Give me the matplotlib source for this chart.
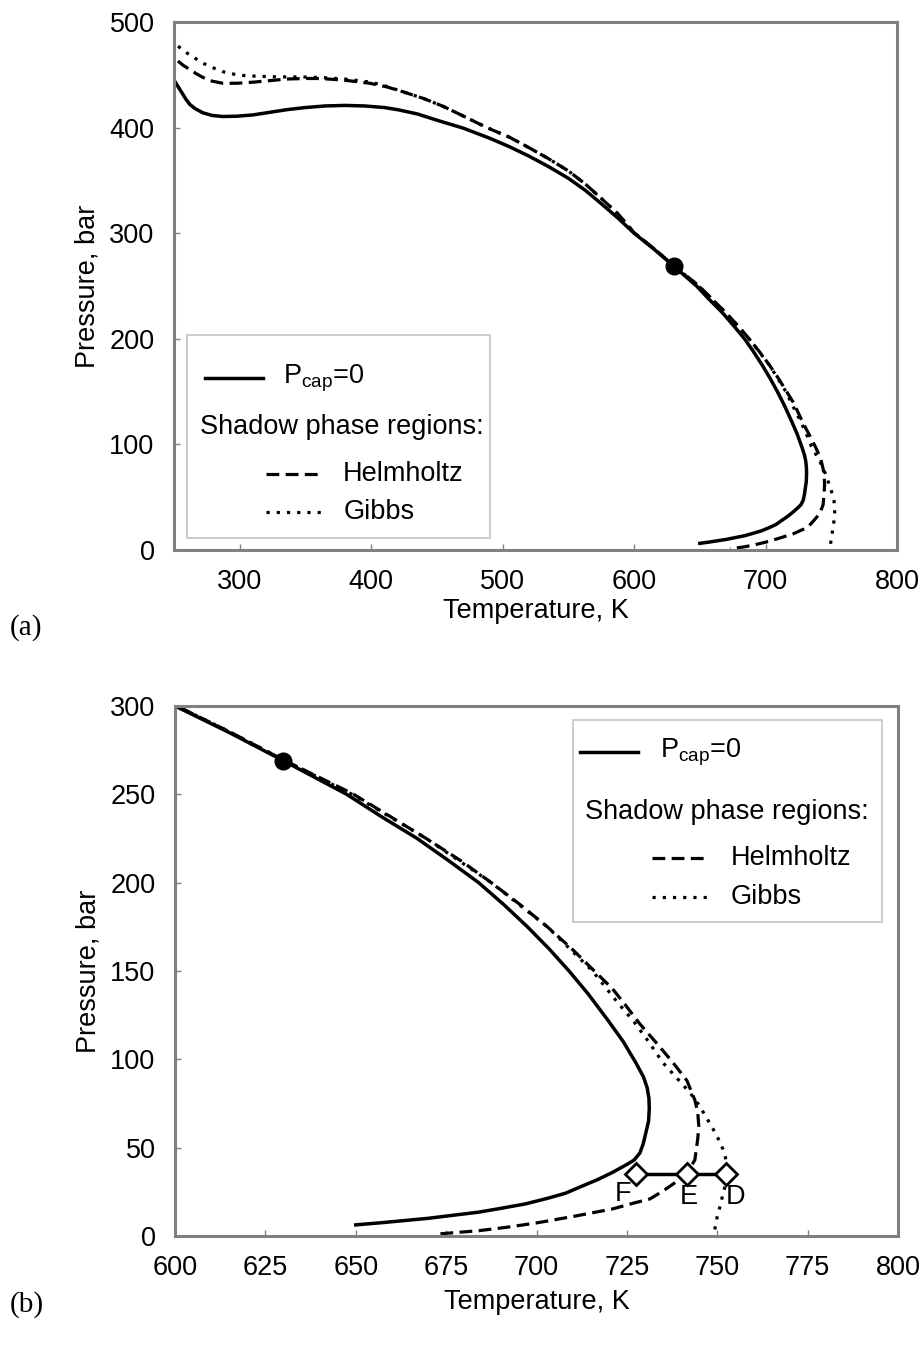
import matplotlib.pyplot as plt
from matplotlib.patches import Rectangle

plt.rcParams['font.family'] = 'Liberation Sans'
plt.rcParams['mathtext.fontset'] = 'custom'
plt.rcParams['mathtext.rm'] = 'Liberation Sans'

# P_cap = 0 curve (temperature K, pressure bar)
SOLID_T = [250, 253, 256, 259, 262, 266, 272, 279, 287, 298, 310, 323, 336, 350, 365,
           380, 395, 410, 420, 435, 450, 470, 490, 505, 520, 535, 550, 563, 575, 588,
           600, 615, 630, 647.5, 657, 667, 676, 684, 691, 697.5, 703.5, 709, 714.3, 719.8,
           724, 727.5, 729.6, 730.6, 731.1, 731.2, 731, 730.2, 729.5, 728.6, 727, 725,
           721.2, 717, 712, 708, 703, 697, 690, 684, 670, 657, 650]
SOLID_P = [445, 439, 433, 427, 422, 418, 414, 411.5, 410.5, 410.8, 412, 414.5, 417, 419, 420.5,
           421, 420.5, 419, 417, 413, 407, 399.5, 390, 382, 373, 363, 352, 340.5, 328, 314,
           300, 285, 269, 250, 237.5, 225, 212, 200, 187.5, 175, 162.5, 150, 137, 122,
           110, 98, 90, 84, 78, 72, 65, 58, 52, 47, 43, 40.5,
           36.2, 32, 27.7, 24.2, 21.3, 18.2, 15.6, 13.5, 10, 7.5, 6.3]

# Helmholtz shadow phase region
DASHED_T = [253, 257, 262, 267, 272, 279, 287, 298, 310, 323, 336, 350, 361, 379, 399,
            412, 424, 440, 455, 470, 488, 505, 520, 535, 550, 563, 575, 588, 600, 615,
            630, 649, 659.5, 669.5, 679, 687.5, 695.5, 703, 709.8, 716, 721, 724.5, 728.6,
            733.3, 737.8, 741.6, 743.8, 744.6, 744.9, 744.6, 743.8, 741.4, 738.2, 735,
            731.4, 727, 721, 710, 700, 692, 684, 678, 673]
DASHED_P = [463, 459, 455, 451, 447.5, 444, 442, 442, 443, 444.5, 446, 446.5, 446.5, 445, 442,
            438.5, 434, 427.5, 420, 411, 400, 391, 381, 370.5, 359, 346.5, 333, 318, 300.5, 285.5,
            269.5, 250.5, 237.5, 225, 212.5, 200, 187.5, 175, 162.5, 150, 140, 131, 120,
            109, 98, 88, 77, 70, 62, 55, 43, 35, 30, 25.5,
            21, 18.7, 15.3, 11, 7.4, 5, 3, 2, 1.2]

# Gibbs shadow phase region
DOTTED_T = [253, 256, 260, 265, 272, 279, 287, 296, 305, 317, 330, 345, 361, 380, 400,
            412, 424, 440, 455, 470, 488, 505, 520, 535, 550, 563, 575, 588, 600, 615,
            630, 649, 669.5, 687.5, 703, 715.5, 722.5, 726.7, 731, 735, 739, 742.5, 745,
            747, 749, 750.8, 752, 752.4, 752.6, 752.3, 751.6, 750.8, 750, 749.5, 749.2]
DOTTED_P = [477, 474.5, 470.5, 466.5, 461, 457, 453, 450.5, 449, 448.5, 448, 448, 447.5, 446, 443,
            439, 434, 427.5, 420, 411, 400, 391, 381, 370.5, 359, 346.5, 333, 318, 300.5, 285.5,
            269.5, 250, 225, 200, 175, 150, 132, 122, 110, 98, 89, 81, 74,
            67, 60, 53, 47, 43, 35, 29, 24, 17, 11, 6, 2]

CP_T, CP_P = 630, 269

TIE_T = [727.5, 741.5, 752.5]
TIE_P = [35, 35, 35]
TIE_LABELS = ['F', 'E', 'D']
TIE_LABEL_T = [724, 742, 755]
TIE_LABEL_P = [24, 22, 22]

FS = 19.5
FRAME = '#808080'


def draw_curves(ax):
    ax.plot(SOLID_T, SOLID_P, color='black', lw=2.5)
    ax.plot(DASHED_T, DASHED_P, color='black', lw=2.3, dashes=(4, 2))
    ax.plot(DOTTED_T, DOTTED_P, color='black', lw=2.3, dashes=(1, 2.2))
    ax.plot([CP_T], [CP_P], 'o', color='black', ms=12)


def style_axes(ax, xlim, ylim, xticks, yticks, xlabel_y, ylabel_x):
    ax.set_xlim(*xlim)
    ax.set_ylim(*ylim)
    ax.set_xticks(xticks)
    ax.set_yticks(yticks)
    for s in ax.spines.values():
        s.set_color(FRAME)
        s.set_linewidth(2.2)
    ax.tick_params(direction='in', length=4.5, width=1, color=FRAME,
                   labelsize=FS, pad=14)
    ax.set_xlabel('Temperature, K', fontsize=FS)
    ax.set_ylabel('Pressure, bar', fontsize=FS)
    ax.xaxis.set_label_coords(0.5, xlabel_y)
    ax.yaxis.set_label_coords(ylabel_x, 0.5)


def draw_legend(ax, box, solid_x, solid_y, text_x, shadow_x, shadow_y,
                dash_x, dash_y, dot_y, sub_x):
    tr = ax.transAxes
    ax.add_patch(Rectangle(box[:2], box[2], box[3], transform=tr, fill=False,
                           edgecolor='#c8c8c8', lw=1.3, zorder=5))
    ax.plot(solid_x, [solid_y] * 2, color='black', lw=2.5, transform=tr)
    ax.text(text_x, solid_y, r'P$_{\mathrm{cap}}$=0', transform=tr,
            fontsize=FS, va='center')
    ax.text(shadow_x, shadow_y, 'Shadow phase regions:', transform=tr,
            fontsize=FS, va='center')
    ax.plot(dash_x, [dash_y] * 2, color='black', lw=2.3, dashes=(4, 2), transform=tr)
    ax.text(sub_x, dash_y, 'Helmholtz', transform=tr, fontsize=FS, va='center')
    ax.plot(dash_x, [dot_y] * 2, color='black', lw=2.3, dashes=(1, 2.2), transform=tr)
    ax.text(sub_x, dot_y, 'Gibbs', transform=tr, fontsize=FS, va='center')


fig = plt.figure(figsize=(9.21, 13.49), dpi=100)
ax_a = fig.add_axes([174 / 921, 1 - 550 / 1349, 723 / 921, 528 / 1349])
ax_b = fig.add_axes([175 / 921, 1 - 1236 / 1349, 723 / 921, 530 / 1349])

# panel (a)
draw_curves(ax_a)
style_axes(ax_a, (250, 800), (0, 500), range(300, 801, 100), range(0, 501, 100),
           -0.091, -0.101)
draw_legend(ax_a, (0.018, 0.023, 0.419, 0.384), (0.043, 0.123), 0.326, 0.151,
            0.036, 0.233, (0.127, 0.205), 0.144, 0.072, 0.234)

# panel (b)
draw_curves(ax_b)
ax_b.plot(TIE_T, TIE_P, color='black', lw=2.5, marker='D', ms=11,
          mfc='white', mec='black', mew=2)
for lab, t, p in zip(TIE_LABELS, TIE_LABEL_T, TIE_LABEL_P):
    ax_b.text(t, p, lab, fontsize=FS, ha='center', va='center')
style_axes(ax_b, (600, 800), (0, 300), range(600, 801, 25), range(0, 301, 50),
           -0.100, -0.102)
draw_legend(ax_b, (0.550, 0.592, 0.428, 0.382), (0.560, 0.640), 0.913, 0.671,
            0.567, 0.800, (0.660, 0.737), 0.713, 0.640, 0.768)

fig.text(10 / 921, 1 - 628 / 1349, '(a)', family='Liberation Serif', fontsize=21, va='center')
fig.text(10 / 921, 1 - 1305 / 1349, '(b)', family='Liberation Serif', fontsize=21, va='center')

fig.savefig('out.png', dpi=100)
